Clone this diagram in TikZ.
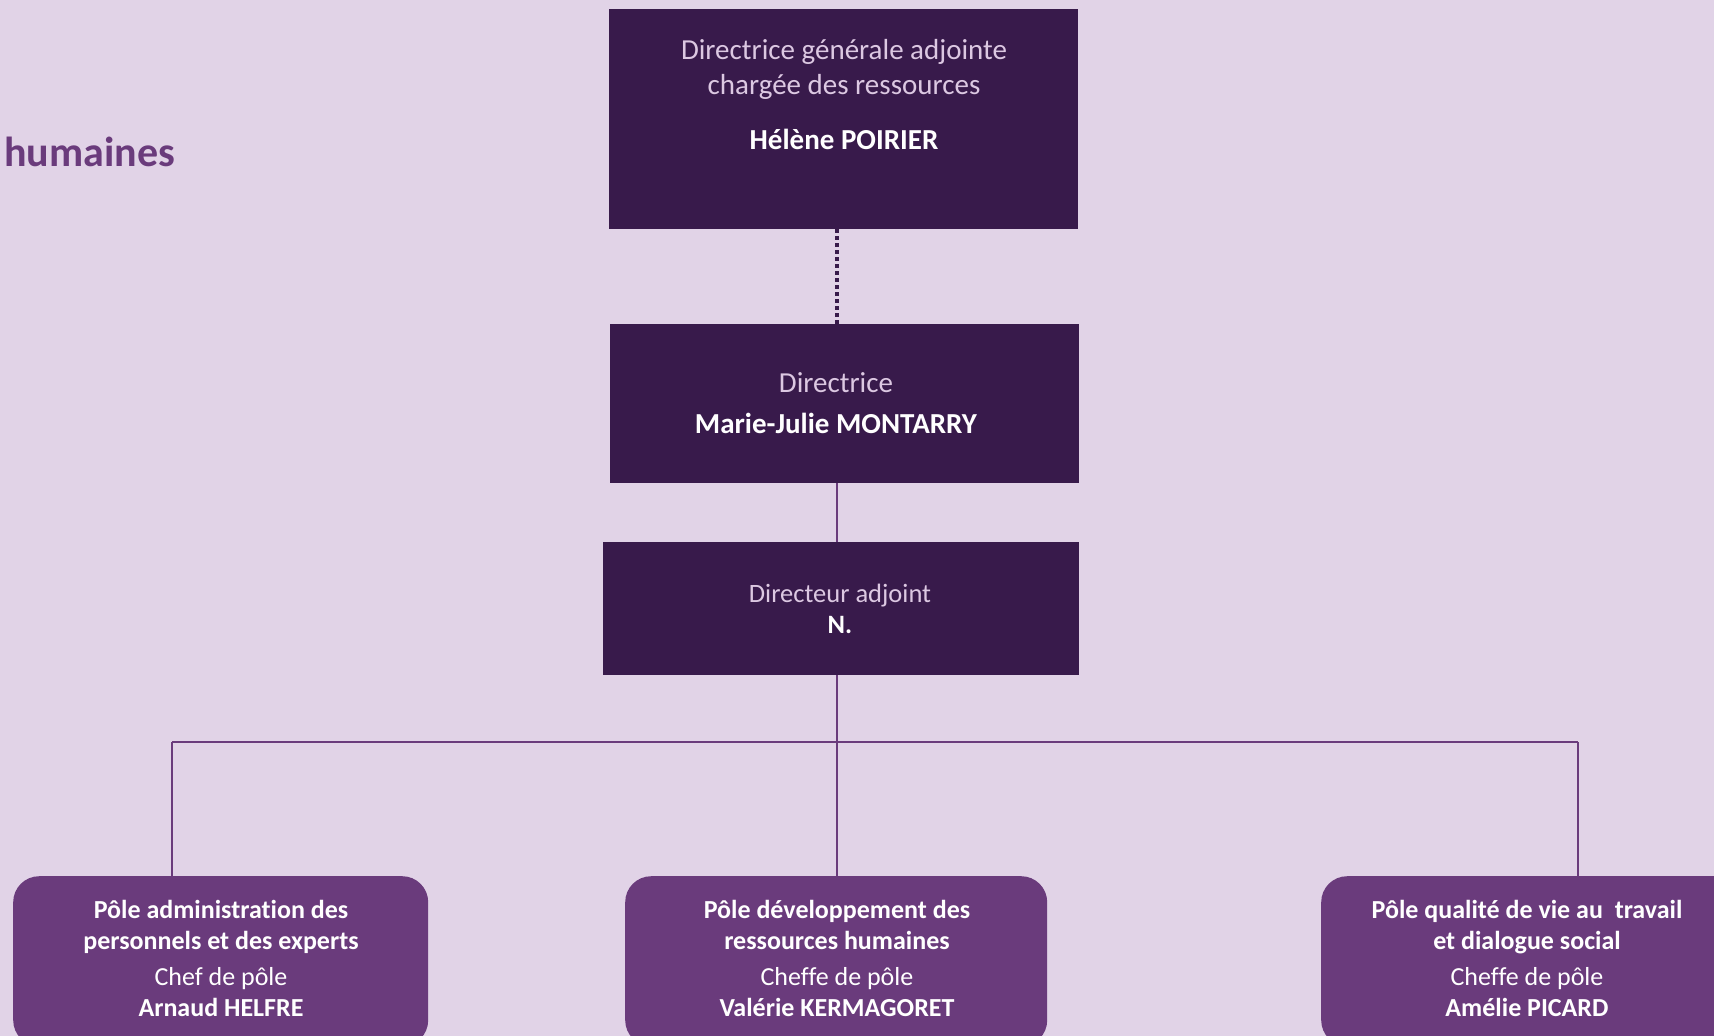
\documentclass[tikz,border=0pt]{standalone}
\usepackage{fontspec}
\setmainfont{Carlito}[Ligatures=NoCommon]
\definecolor{bgcol}{HTML}{E1D3E7}
\definecolor{darkcol}{HTML}{381A4B}
\definecolor{midcol}{HTML}{6A3B7C}
\definecolor{lightcol}{HTML}{DCC8E2}
\tikzset{
  darkbox/.style={fill=darkcol, draw=none, inner sep=0, anchor=north west},
  polebox/.style={fill=midcol, draw=none, inner sep=0, anchor=north west, rounded corners=26pt, minimum height=170pt},
  lt/.style={anchor=base, inner sep=0, text=lightcol, font=\fontsize{29}{35}\selectfont},
  bt/.style={anchor=base, inner sep=0, text=white, font=\fontsize{29}{35}\selectfont\bfseries},
  plt/.style={anchor=base, inner sep=0, text=white, font=\fontsize{26}{31}\selectfont},
  pbt/.style={anchor=base, inner sep=0, text=white, font=\fontsize{26}{31}\selectfont\bfseries},
  conn/.style={draw=midcol, line width=1.8pt},
  dotline/.style={draw=darkcol, line width=3.4pt, dash pattern=on 4pt off 3pt}
}
\begin{document}
\begin{tikzpicture}[x=1pt,y=-1pt]
\fill[bgcol] (0,0) rectangle (1714,1036);
\useasboundingbox (0,0) rectangle (1714,1036);
\clip (0,0) rectangle (1714,1036);

% title fragment
\node[anchor=base west, inner sep=0, text=midcol, font=\fontsize{42}{50}\selectfont\bfseries] (title) at (4,166) {humaines};

% boxes
\node[darkbox, minimum width=469pt, minimum height=220pt] (b1) at (609,9) {};
\node[darkbox, minimum width=469pt, minimum height=159pt] (b2) at (610,324) {};
\node[darkbox, minimum width=476pt, minimum height=133pt] (b3) at (603,542) {};
\node[polebox, minimum width=415pt] (p1) at (13,876) {};
\node[polebox, minimum width=422pt] (p2) at (625,876) {};
\node[polebox, minimum width=460pt] (p3) at (1321,876) {};

% texts box 1
\node[lt] (t1a) at (844,59) {Directrice générale adjointe};
\node[lt] (t1b) at (844,94) {chargée des ressources};
\node[bt] (t1c) at (844,149) {Hélène POIRIER};
% box 2
\node[lt] (t2a) at (836,392) {Directrice};
\node[bt] (t2b) at (836,433) {Marie-Julie MONTARRY};
% box 3
\node[lt, font=\fontsize{26.5}{32}\selectfont] (t3a) at (840,602) {Directeur adjoint};
\node[bt, font=\fontsize{26.5}{32}\selectfont\bfseries] (t3b) at (840,633) {N.};

% pole 1
\node[pbt] (q1a) at (221,918) {Pôle administration des};
\node[pbt] (q1b) at (221,949) {personnels et des experts};
\node[plt] (q1c) at (221,985) {Chef de pôle};
\node[pbt] (q1d) at (221,1016) {Arnaud HELFRE};
% pole 2
\node[pbt] (q2a) at (837,918) {Pôle développement des};
\node[pbt] (q2b) at (837,949) {ressources humaines};
\node[plt] (q2c) at (837,985) {Cheffe de pôle};
\node[pbt] (q2d) at (837,1016) {Valérie KERMAGORET};
% pole 3
\node[pbt] (q3a) at (1527,918) {Pôle qualité de vie au~ travail};
\node[pbt] (q3b) at (1527,949) {et dialogue social};
\node[plt] (q3c) at (1527,985) {Cheffe de pôle};
\node[pbt] (q3d) at (1527,1016) {Amélie PICARD};

% connectors
\coordinate (spine) at (837,0);
\coordinate (hl) at (172,742);
\coordinate (hr) at (1578,742);
\draw[dotline] (b1.south -| spine) -- (b2.north -| spine);
\draw[conn] (b2.south -| spine) -- (b3.north -| spine);
\draw[conn] (b3.south -| spine) -- (p2.north -| spine);
\draw[conn] (hl) -- (hr);
\draw[conn] (hl) -- (hl |- p1.north);
\draw[conn] (hr) -- (hr |- p3.north);
\end{tikzpicture}
\end{document}
